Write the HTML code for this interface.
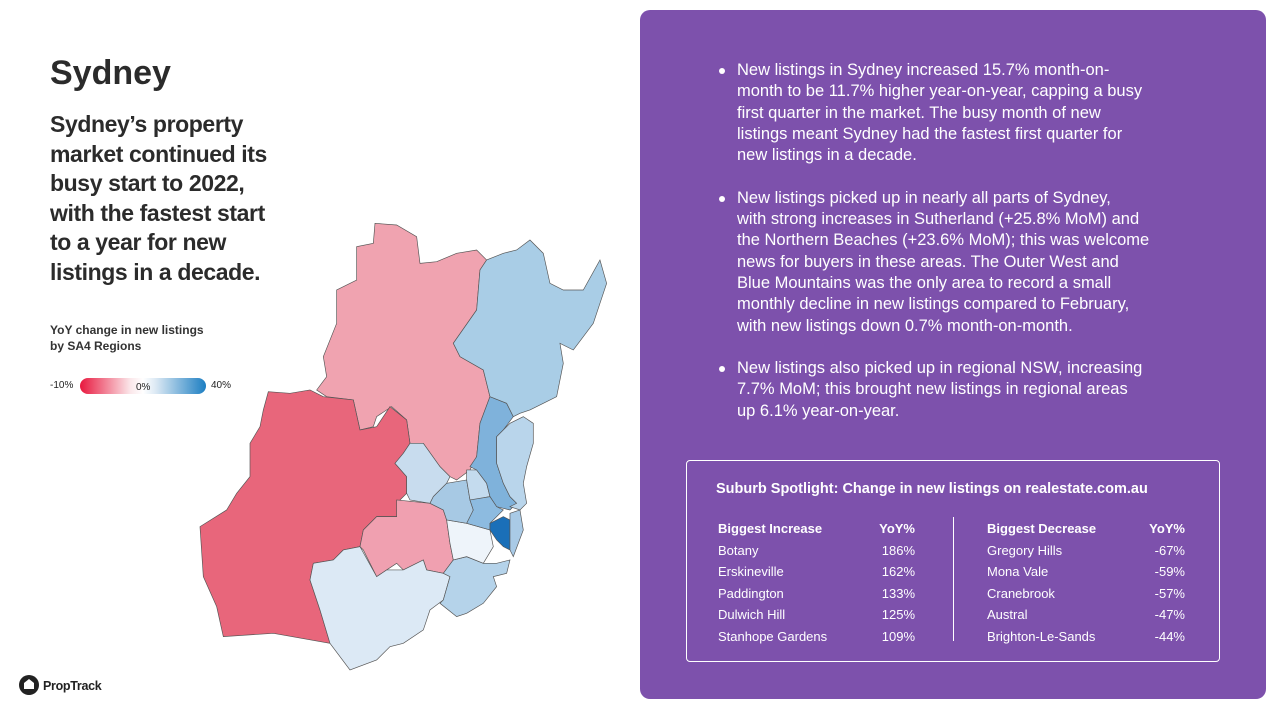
<!DOCTYPE html>
<html><head><meta charset="utf-8"><style>
body{margin:0;width:1280px;height:713px;background:#fff;font-family:"Liberation Sans",sans-serif;position:relative;overflow:hidden;color:#222}
.abs{position:absolute}
h1{position:absolute;left:50px;top:54px;margin:0;font-size:34px;font-weight:bold;color:#2b2b2b}
.sub{left:50px;top:110px;font-size:23px;font-weight:bold;line-height:29.5px;color:#2b2b2b;white-space:nowrap;letter-spacing:-0.4px}
.leg{left:50px;top:322px;font-size:12px;font-weight:bold;line-height:16px;color:#333}
.panel{left:640px;top:10px;width:626px;height:689px;background:#7d51ac;border-radius:10px}
ul{position:absolute;left:716px;top:60px;margin:0;padding:0;width:480px;color:#fff;font-size:16.5px;line-height:21.3px;list-style:none;white-space:nowrap}
li{position:relative;padding-left:21px;margin-bottom:21.3px}
li:before{content:"";position:absolute;left:3px;top:8px;width:6px;height:6px;border-radius:50%;background:#fff}
.box{left:686px;top:460px;width:532px;height:200px;border:1.5px solid #fff;border-radius:4px;color:#fff}
.t{position:absolute;font-size:13px}
</style></head><body>
<h1>Sydney</h1>
<div class="abs sub">Sydney’s property<br>market continued its<br>busy start to 2022,<br>with the fastest start<br>to a year for new<br>listings in a decade.</div>
<div class="abs leg">YoY change in new listings<br>by SA4 Regions</div>
<div class="abs" style="left:50px;top:380px;font-size:10px">-10%</div>
<div class="abs" style="left:80px;top:378px;width:126px;height:16px;border-radius:8px;background:linear-gradient(90deg,#e8183e,#fbe7ea 40%,#fff 50%,#dce9f4 60%,#1c7ec2)"></div>
<div class="abs" style="left:136px;top:382px;font-size:10px">0%</div>
<div class="abs" style="left:211px;top:380px;font-size:10px">40%</div>
<svg class="abs" style="left:0;top:0" width="640" height="713">
<g transform="translate(190,210) scale(0.3333)" stroke="#555" stroke-width="2">
<polygon fill="#f0a3b0" points="555,40 620,45 680,80 690,160 740,155 800,130 860,120 890,150 870,180 860,300 790,400 810,440 880,480 900,560 870,640 860,740 840,780 800,810 780,800 750,770 700,700 660,700 650,630 605,590 560,620 550,650 510,660 490,570 410,560 380,540 410,500 400,440 440,340 440,240 500,210 500,110 550,100"/>
<polygon fill="#e8667b" points="235,545 300,550 360,540 400,560 490,570 510,660 560,650 600,590 650,630 660,700 640,730 615,760 650,800 650,850 630,870 620,920 560,920 520,960 510,1010 460,1020 430,1050 370,1060 360,1110 390,1200 420,1300 250,1270 100,1280 80,1190 40,1100 30,950 110,900 140,850 180,800 180,700 210,650 220,600"/>
<polygon fill="#c8dcee" points="660,700 700,700 750,770 780,800 770,820 730,860 720,880 660,870 650,850 650,800 615,760 640,730"/>
<polygon fill="#f0a0b0" points="620,870 720,880 760,900 770,930 780,1000 790,1050 760,1090 710,1080 700,1050 640,1080 620,1060 590,1080 560,1100 520,1020 510,1010 520,960 560,920 620,920"/>
<polygon fill="#dce9f5" points="460,1020 510,1010 560,1100 590,1080 640,1080 700,1050 710,1080 760,1090 780,1100 760,1170 720,1200 700,1260 640,1300 600,1310 560,1350 480,1380 420,1300 390,1200 360,1110 370,1060 430,1050"/>
<polygon fill="#b5d3ea" points="760,1090 790,1050 830,1040 880,1060 920,1060 960,1050 950,1090 910,1100 920,1130 880,1180 830,1210 800,1220 750,1180 760,1170 780,1100"/>
<polygon fill="#eef4fa" points="770,930 830,940 900,960 910,1010 880,1060 830,1040 790,1050 780,1000"/>
<polygon fill="#a7c9e4" points="730,860 770,820 830,810 840,870 850,900 840,930 830,940 770,930 760,900 720,880"/>
<polygon fill="#c4dbee" points="830,780 860,780 890,820 900,860 850,870 840,870 830,810"/>
<polygon fill="#7fb2db" points="900,560 950,580 970,620 940,660 920,680 920,760 940,820 960,860 980,880 960,900 920,890 900,860 890,820 860,780 840,770 860,740 870,640"/>
<polygon fill="#8dbbe0" points="840,870 900,860 920,890 940,900 900,940 900,960 830,940 850,900"/>
<polygon fill="#1a6fb8" points="900,940 940,920 960,930 960,1020 940,1010 920,990 900,960"/>
<polygon fill="#a9cae6" points="960,910 990,900 1000,960 970,1040 960,1020 960,930"/>
<polygon fill="#b9d5eb" points="920,680 960,640 1000,620 1030,640 1030,700 1010,770 1000,820 1010,880 990,900 960,890 980,880 960,860 940,820 920,760"/>
<polygon fill="#a9cde6" points="890,150 940,130 980,120 1020,90 1060,130 1080,220 1120,240 1180,240 1230,150 1250,220 1230,280 1210,340 1180,380 1150,420 1110,400 1120,460 1100,560 1060,580 1020,600 990,610 970,620 950,580 900,560 880,480 810,440 790,400 860,300 870,180"/>
</g>
<circle cx="29" cy="685" r="10" fill="#222"/>
<path d="M24 689 v-6 l5 -4 l5 4 v6 z" fill="#fff"/>
<text x="43" y="690" font-size="12.5" font-weight="bold" fill="#222" font-family="Liberation Sans" letter-spacing="-0.3">PropTrack</text>
</svg>
<div class="abs panel"></div>
<ul>
<li>New listings in Sydney increased 15.7% month-on-<br>month to be 11.7% higher year-on-year, capping a busy<br>first quarter in the market. The busy month of new<br>listings meant Sydney had the fastest first quarter for<br>new listings in a decade.</li>
<li>New listings picked up in nearly all parts of Sydney,<br>with strong increases in Sutherland (+25.8% MoM) and<br>the Northern Beaches (+23.6% MoM); this was welcome<br>news for buyers in these areas. The Outer West and<br>Blue Mountains was the only area to record a small<br>monthly decline in new listings compared to February,<br>with new listings down 0.7% month-on-month.</li>
<li>New listings also picked up in regional NSW, increasing<br>7.7% MoM; this brought new listings in regional areas<br>up 6.1% year-on-year.</li>
</ul>
<div class="abs box">
<div class="t" style="left:29px;top:20px;font-size:14.5px;font-weight:bold">Suburb Spotlight: Change in new listings on realestate.com.au</div>
<div style="position:absolute;left:266px;top:56px;width:1px;height:124px;background:#fff"></div>
<div class="t" style="left:31px;top:57px;font-weight:bold;line-height:21.5px">Biggest Increase<br><span style="font-weight:normal">Botany<br>Erskineville<br>Paddington<br>Dulwich Hill<br>Stanhope Gardens</span></div>
<div class="t" style="left:180px;width:48px;text-align:right;top:57px;line-height:21.5px"><b>YoY%</b><br>186%<br>162%<br>133%<br>125%<br>109%</div>
<div class="t" style="left:300px;top:57px;font-weight:bold;line-height:21.5px">Biggest Decrease<br><span style="font-weight:normal">Gregory Hills<br>Mona Vale<br>Cranebrook<br>Austral<br>Brighton-Le-Sands</span></div>
<div class="t" style="left:450px;width:48px;text-align:right;top:57px;line-height:21.5px"><b>YoY%</b><br>-67%<br>-59%<br>-57%<br>-47%<br>-44%</div>
</div>
</body></html>
